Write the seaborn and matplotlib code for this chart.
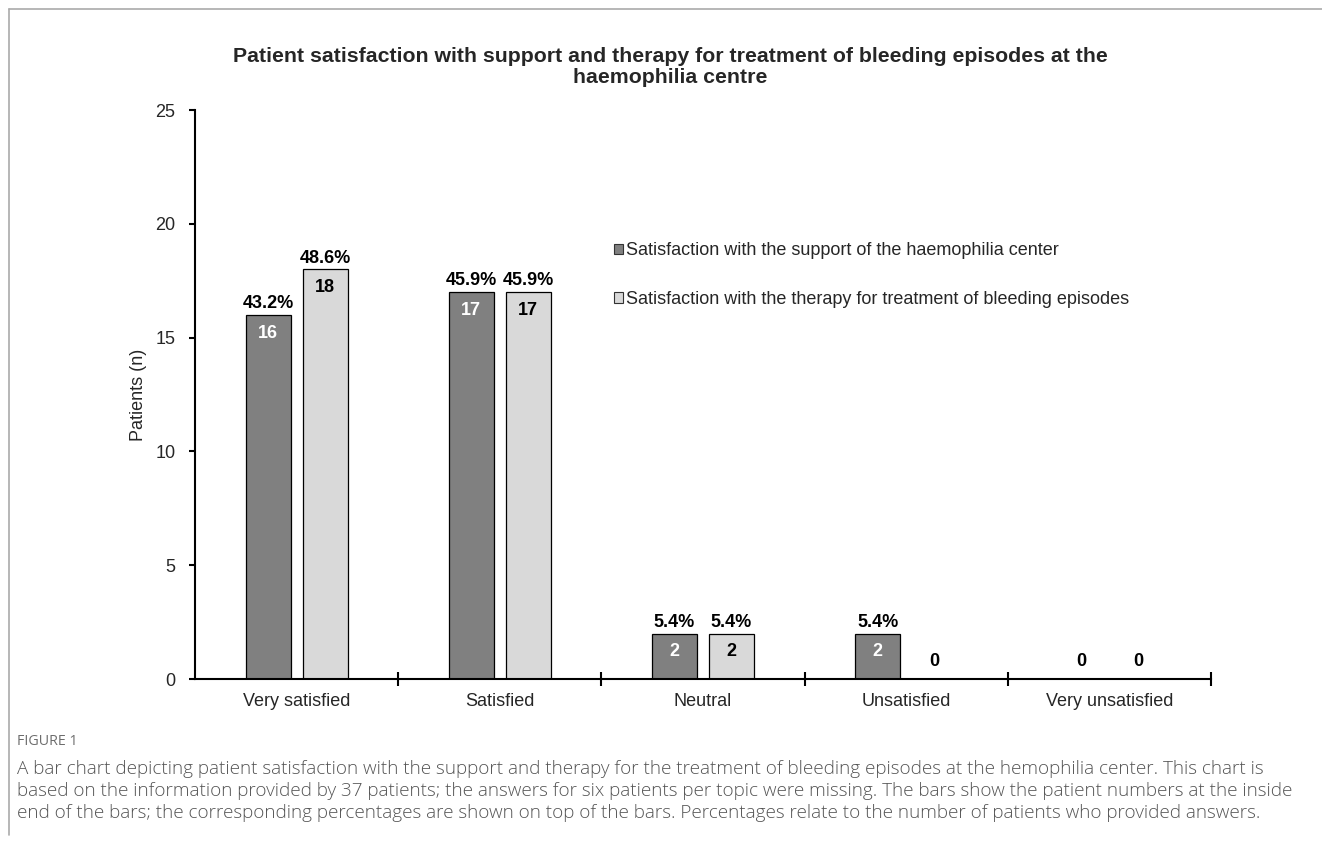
import matplotlib
matplotlib.use("Agg")
import matplotlib.pyplot as plt
from matplotlib.lines import Line2D
import seaborn as sns
import pandas as pd

categories = ["Very satisfied", "Satisfied", "Neutral", "Unsatisfied", "Very unsatisfied"]
support_counts = [16, 17, 2, 2, 0]
therapy_counts = [18, 17, 2, 0, 0]
series_names = ["Satisfaction with the support of the haemophilia center",
                "Satisfaction with the therapy for treatment of bleeding episodes"]
n_respondents = 37
y_ticks = [0, 5, 10, 15, 20, 25]

title = "Patient satisfaction with support and therapy for treatment of bleeding episodes at the\nhaemophilia centre"
caption_head = "FIGURE 1"
caption_lines = [
    "A bar chart depicting patient satisfaction with the support and therapy for the treatment of bleeding episodes at the hemophilia center. This chart is",
    "based on the information provided by 37 patients; the answers for six patients per topic were missing. The bars show the patient numbers at the inside",
    "end of the bars; the corresponding percentages are shown on top of the bars. Percentages relate to the number of patients who provided answers.",
]

df = pd.DataFrame({
    "category": categories * 2,
    "series": [series_names[0]] * len(categories) + [series_names[1]] * len(categories),
    "count": support_counts + therapy_counts,
})

sns.set_style("white")
plt.rcParams["font.family"] = ["Liberation Sans", "DejaVu Sans"]

fig = plt.figure(figsize=(13.22, 8.47), dpi=100)
ax = fig.add_axes([0.1475, 0.1983, 0.9160 - 0.1475, 0.8701 - 0.1983])

palette = ["#808080", "#d9d9d9"]
sns.barplot(data=df, x="category", y="count", hue="series", order=categories,
            hue_order=series_names, palette=palette, width=0.561, gap=0.21,
            edgecolor="black", linewidth=0.9, saturation=1, ax=ax)

ax.set_xlim(-0.5, 4.5)
ax.set_ylim(0, 25)
ax.set_yticks(y_ticks)
ax.tick_params(axis="y", left=True, direction="out", length=4, width=1.5, labelsize=13,
               color="black", pad=10)
ax.set_xticks(range(len(categories)))
ax.set_xticklabels(categories)
ax.tick_params(axis="x", which="major", bottom=True, length=0, labelsize=13, pad=10)
ax.set_xticks([0.5, 1.5, 2.5, 3.5, 4.5], minor=True)
ax.tick_params(axis="x", which="minor", bottom=True, direction="inout", length=10, width=1.5,
               color="black")
for side in ["top", "right"]:
    ax.spines[side].set_visible(False)
for side in ["left", "bottom"]:
    ax.spines[side].set_color("black")
    ax.spines[side].set_linewidth(1.5)
ax.set_xlabel("")
ax.set_ylabel("Patients (n)", fontsize=13, labelpad=6)

# Count inside each bar end and percentage on top
for container, counts, txtcolor in zip(ax.containers, [support_counts, therapy_counts], ["white", "black"]):
    for patch, c in zip(container.patches, counts):
        xc = patch.get_x() + patch.get_width() / 2
        if c > 0:
            ax.text(xc, c - 0.8, f"{c}", ha="center", va="center", fontsize=13,
                    fontweight="bold", color=txtcolor)
            ax.text(xc, c + 0.12, f"{c / n_respondents * 100:.1f}%", ha="center", va="bottom",
                    fontsize=13, fontweight="bold", color="black")
        else:
            ax.text(xc, 0.75, "0", ha="center", va="center", fontsize=13,
                    fontweight="bold", color="black")

leg = ax.legend(loc="upper left", bbox_to_anchor=(0.405, 0.78), frameon=False,
                fontsize=13, handlelength=0.5, handleheight=0.5, handletextpad=0.2,
                labelspacing=1.75, borderaxespad=0)
for h in leg.legend_handles:
    h.set_edgecolor("#333333")
    h.set_linewidth(0.8)

fig.text(0.507, 0.921, title, ha="center", va="center", fontsize=15.3, fontweight="bold",
         linespacing=1.1)

fig.text(0.0128, 0.124, caption_head, ha="left", va="center", fontsize=10.3,
         color="#6d6d6d", family=["Open Sans", "DejaVu Sans"])
for i, line in enumerate(caption_lines):
    fig.text(0.0128, 0.0925 - i * 0.026, line, ha="left", va="center", fontsize=13.6,
             color="#555555", family=["Open Sans", "DejaVu Sans"], fontweight="light")

# Frame lines along the top and left edges
fig.add_artist(Line2D([9 / 1322, 1.0], [1 - 9 / 847, 1 - 9 / 847], transform=fig.transFigure,
                      color="#aaaaaa", linewidth=1.2))
fig.add_artist(Line2D([9 / 1322, 9 / 1322], [1 - 9 / 847, 1 - 835 / 847], transform=fig.transFigure,
                      color="#aaaaaa", linewidth=1.2))

fig.savefig("out.png", dpi=100)
